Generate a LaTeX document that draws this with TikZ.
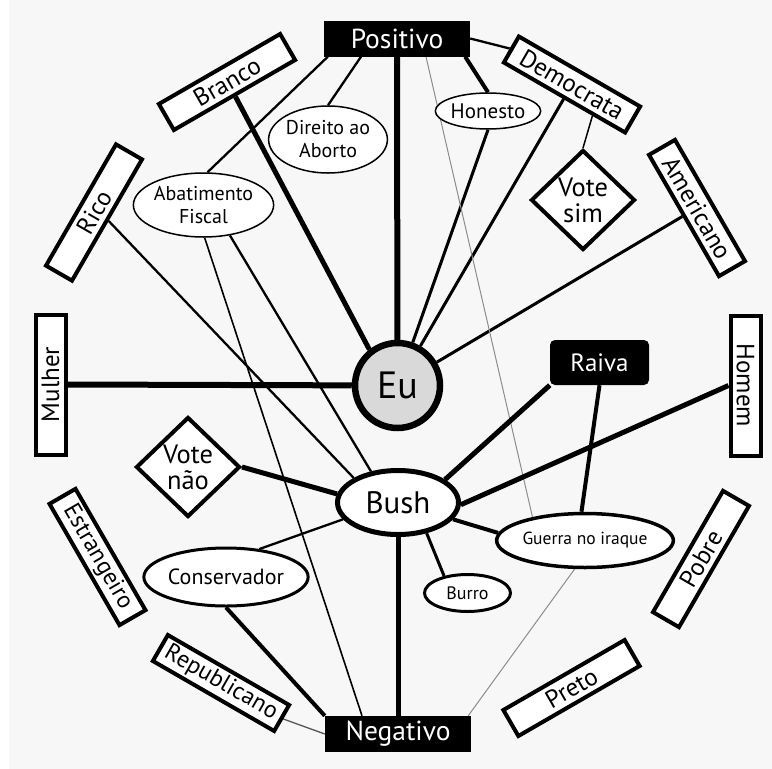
\documentclass[tikz,border=0pt]{standalone}
\usepackage{fontspec}
\setmainfont{PT Sans}
\usetikzlibrary{shapes.geometric,backgrounds}
\definecolor{paper}{HTML}{F7F7F7}
\definecolor{eufill}{HTML}{D9D9D9}
\definecolor{faint}{HTML}{8C8C8C}
\definecolor{darkline}{HTML}{555555}

\begin{document}
\begin{tikzpicture}[x=1pt,y=-1pt,
  tag/.style={draw,fill=white,line width=4pt,minimum width=140pt,minimum height=30pt,
    inner sep=0pt,font=\fontsize{25}{25}\selectfont},
  pole/.style={fill=black,text=white,minimum width=146pt,minimum height=36pt,
    inner sep=0pt,font=\fontsize{27.5}{27.5}\selectfont},
  idea/.style={ellipse,draw,fill=white,inner sep=0pt,align=center},
  vote/.style={diamond,draw,fill=white,line width=4pt,minimum width=104pt,
    minimum height=100pt,inner sep=0pt,align=center,font=\fontsize{26.5}{26}\selectfont},
  bar6/.style={line width=6pt},
  bar5/.style={line width=5pt},
  bar4/.style={line width=4pt},
  bar3/.style={line width=3pt},
  bar2/.style={line width=2.3pt},
  bar1/.style={line width=1.5pt},
  ghost/.style={line width=1pt,faint},
]

% central self node
\node[circle,draw,line width=6.5pt,fill=eufill,minimum size=85pt,inner sep=0pt,
  font=\fontsize{38}{38}\selectfont] (eu) at (397.5,385.5) {Eu};

% poles
\node[pole] (pos) at (397,38.5) {Positivo};
\node[pole] (neg) at (398,734) {Negativo};

% attribute tags around the ring
\node[tag,rotate=30]  (bra) at (227,82)      {Branco};
\node[tag,rotate=-30] (dem) at (572,84.5)    {Democrata};
\node[tag,rotate=60]  (rico) at (94,212.5)   {Rico};
\node[tag,rotate=-60] (ame) at (697,208)     {Americano};
\node[tag,rotate=90]  (mul) at (50.5,384.5)  {Mulher};
\node[tag,rotate=-90] (hom) at (745.5,385.5) {Homem};
\node[tag,rotate=-60,font=\fontsize{24}{24}\selectfont] (est) at (97.5,557) {Estrangeiro};
\node[tag,rotate=60]  (pob) at (701,559)     {Pobre};
\node[tag,rotate=-30,font=\fontsize{24}{24}\selectfont] (rep) at (221,683) {Republicano};
\node[tag,rotate=30]  (pre) at (571.5,688)   {Preto};

% votes
\node[vote] (vsim) at (583,200) {Vote\\sim};
\node[vote] (vnao) at (188,467) {Vote\\não};

% concepts
\node[idea,line width=1.5pt,minimum width=108pt,minimum height=67pt,
  font=\fontsize{20}{23}\selectfont] (dir) at (328,139.5) {Direito ao\\Aborto};
\node[idea,line width=1.5pt,minimum width=119pt,minimum height=64pt,
  font=\fontsize{20}{23}\selectfont] (abat) at (203.5,205) {Abatimento\\Fiscal};
\node[idea,line width=1.5pt,minimum width=98pt,minimum height=36pt,
  font=\fontsize{21}{21}\selectfont] (hon) at (488,111) {Honesto};

\node[idea,line width=5pt,minimum width=121pt,minimum height=64pt,
  font=\fontsize{31}{31}\selectfont] (bush) at (398,502.5) {Bush};
\node[idea,line width=3pt,minimum width=144pt,minimum height=58pt,
  font=\fontsize{22}{22}\selectfont] (cons) at (226,577) {Conservador};
\node[idea,line width=3pt,minimum width=86pt,minimum height=37pt,
  font=\fontsize{18}{18}\selectfont] (burro) at (467.5,593) {Burro};
\node[idea,line width=3.5pt,minimum width=141pt,minimum height=54pt,
  font=\fontsize{17.5}{17.5}\selectfont] (guerra) at (585,540.5) {Guerra no iraque};

\node[fill=black,text=white,rounded corners=5pt,minimum width=99pt,minimum height=45pt,
  inner sep=0pt,font=\fontsize{25}{25}\selectfont] (raiva) at (599.5,362.5) {Raiva};

\begin{scope}[on background layer]
  \fill[paper] (0,0) rectangle (772,769);
  \fill[white] (0,0) rectangle (9,769);

  % links of the self
  \draw[bar6] (pos.south) -- (eu);
  \draw[bar6] (mul.south) -- (eu);
  \draw[bar5] (bra.south) -- (eu.128);
  \draw[bar3] (hon.south) -- (eu);
  \draw[bar3] (dem.south) -- (eu);
  \draw[bar3] (ame.south) -- (eu);

  % links of the positive pole
  \draw[bar4] ([xshift=-5pt]pos.south east) -- (hon.north);
  \draw[bar2] ([xshift=-36pt]pos.south) -- (dir.north);
  \draw[bar2] ([xshift=4pt]pos.south west) -- ([xshift=4pt]abat.north);
  \draw[bar2] (pos.east) -- (dem.west);
  \draw[ghost] ([xshift=29pt]pos.south) -- (guerra.156);
  \draw[bar1] (dem.-27) -- (vsim.north);

  % links of Bush
  \draw[bar2] (rico.south) -- (bush.151);
  \draw[bar2] (abat.-49) -- (bush.131);
  \draw[bar5] (vnao.east) -- (bush.172);
  \draw[bar5] (raiva.south west) -- (bush.26);
  \draw[bar5] (hom.south) -- (bush.-2);
  \draw[bar4] (bush.-17) -- (guerra.175);
  \draw[bar4] (raiva.south) -- (guerra.97);
  \draw[bar3] (bush.-47) -- (burro.144);
  \draw[bar5] (bush.south) -- (neg.north);
  \draw[bar2] (cons.40) -- (bush.197);

  % links of the negative pole
  \draw[line width=1.6pt] (abat.-88) -- ([xshift=-36pt]neg.north);
  \draw[bar4] (cons.south) -- (neg.north west);
  \draw[line width=1.3pt,darkline] (rep.east) -- (neg.west);
  \draw[ghost] (guerra.-110) -- ([xshift=-3pt]neg.north east);
\end{scope}
\end{tikzpicture}
\end{document}
